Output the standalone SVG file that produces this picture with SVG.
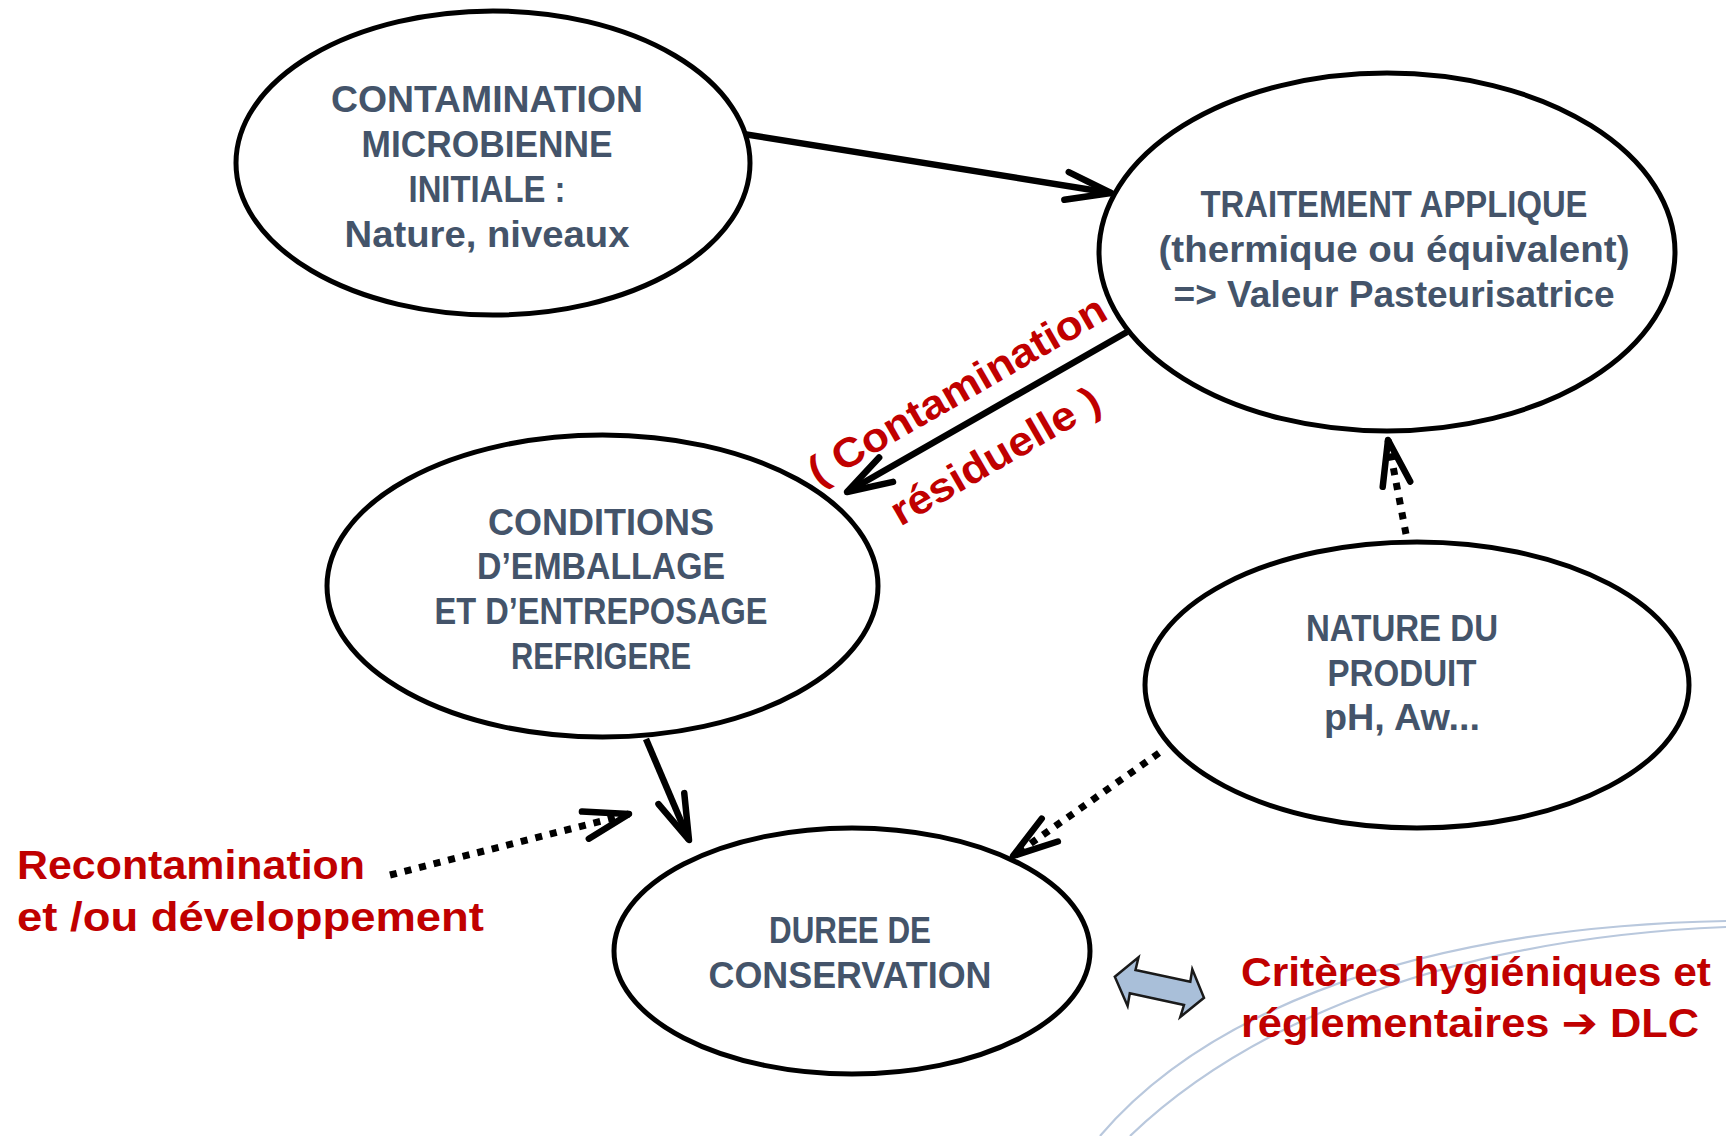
<svg xmlns="http://www.w3.org/2000/svg" width="1726" height="1136" viewBox="0 0 1726 1136">
<style>
.node{fill:#ffffff;stroke:#000000;stroke-width:5}
.nt{font-family:"Liberation Sans","DejaVu Sans",sans-serif;font-weight:bold;font-size:37px;fill:#44546A;text-anchor:middle}
.rt{font-family:"Liberation Sans","DejaVu Sans",sans-serif;font-weight:bold;font-size:41px;fill:#C00000}
.solid{fill:none;stroke:#000000;stroke-width:6.5}
.dot{fill:none;stroke:#000000;stroke-width:7;stroke-dasharray:7 8}
.deco{fill:none;stroke:#B9C8DD;stroke-width:2.2}
</style>
<defs>
<marker id="head" markerUnits="userSpaceOnUse" viewBox="-52 -22 60 44" refX="0" refY="0" markerWidth="60" markerHeight="44" orient="auto" overflow="visible">
<path d="M -45 -14 L 0 0 L -45 14" fill="none" stroke="#000000" stroke-width="6.5" stroke-linecap="round" stroke-linejoin="round"/>
</marker>
</defs>
<rect width="1726" height="1136" fill="#ffffff"/>
<g id="decoration">
<path class="deco" d="M 1100 1136 C 1190 1030, 1380 928, 1726 921"/>
<path class="deco" d="M 1130 1136 C 1225 1045, 1410 940, 1726 927"/>
</g>
<g id="connectors">
<line class="solid" x1="737" y1="133" x2="1111" y2="193" marker-end="url(#head)"/>
<line class="solid" x1="1127" y1="332" x2="847" y2="492" marker-end="url(#head)"/>
<line class="dot" x1="1406" y1="534" x2="1388" y2="440" marker-end="url(#head)"/>
<line class="dot" x1="390" y1="875" x2="629" y2="814" marker-end="url(#head)"/>
<line class="solid" x1="646" y1="739" x2="689" y2="840" marker-end="url(#head)"/>
<line class="dot" x1="1159" y1="753" x2="1013" y2="856" marker-end="url(#head)"/>
<polygon id="double-arrow" points="1114.8,976.7 1138.5,957.3 1135.5,970 1190.3,981.7 1192.3,969.3 1204,997.8 1180.3,1017 1184,1005 1129.8,993.3 1127.6,1006" fill="#A9BFD9" stroke="#1a1a1a" stroke-width="2.5" stroke-linejoin="miter"/>
</g>
<g id="node-contamination">
<ellipse class="node" cx="493" cy="163" rx="257" ry="152"/>
<text class="nt" x="487" y="112" textLength="312" lengthAdjust="spacingAndGlyphs">CONTAMINATION</text>
<text class="nt" x="487" y="157" textLength="251" lengthAdjust="spacingAndGlyphs">MICROBIENNE</text>
<text class="nt" x="487" y="202" textLength="157" lengthAdjust="spacingAndGlyphs">INITIALE :</text>
<text class="nt" x="487" y="247" textLength="285" lengthAdjust="spacingAndGlyphs">Nature, niveaux</text>
</g>
<g id="node-traitement">
<ellipse class="node" cx="1387" cy="252" rx="288" ry="179"/>
<text class="nt" x="1394" y="217" textLength="387" lengthAdjust="spacingAndGlyphs">TRAITEMENT APPLIQUE</text>
<text class="nt" x="1394" y="262" textLength="471" lengthAdjust="spacingAndGlyphs">(thermique ou équivalent)</text>
<text class="nt" x="1394" y="307" textLength="441" lengthAdjust="spacingAndGlyphs">=&gt; Valeur Pasteurisatrice</text>
</g>
<g id="node-conditions">
<ellipse class="node" cx="602.5" cy="586" rx="275.5" ry="151"/>
<text class="nt" x="601" y="535" textLength="226" lengthAdjust="spacingAndGlyphs">CONDITIONS</text>
<text class="nt" x="601" y="579" textLength="248" lengthAdjust="spacingAndGlyphs">D’EMBALLAGE</text>
<text class="nt" x="601" y="624" textLength="333" lengthAdjust="spacingAndGlyphs">ET D’ENTREPOSAGE</text>
<text class="nt" x="601" y="669" textLength="180" lengthAdjust="spacingAndGlyphs">REFRIGERE</text>
</g>
<g id="node-nature">
<ellipse class="node" cx="1417" cy="685" rx="272" ry="143"/>
<text class="nt" x="1402" y="641" textLength="192" lengthAdjust="spacingAndGlyphs">NATURE DU</text>
<text class="nt" x="1402" y="686" textLength="149" lengthAdjust="spacingAndGlyphs">PRODUIT</text>
<text class="nt" x="1402" y="730" textLength="156" lengthAdjust="spacingAndGlyphs">pH, Aw...</text>
</g>
<g id="node-duree">
<ellipse class="node" cx="852" cy="951" rx="238" ry="123"/>
<text class="nt" x="850" y="943" textLength="162" lengthAdjust="spacingAndGlyphs">DUREE DE</text>
<text class="nt" x="850" y="988" textLength="283" lengthAdjust="spacingAndGlyphs">CONSERVATION</text>
</g>
<g id="label-residuelle" transform="translate(957,390) rotate(-30)">
<text class="rt" x="0" y="14" text-anchor="middle" font-size="42" textLength="337" lengthAdjust="spacingAndGlyphs">( Contamination</text>
<text class="rt" x="0" y="90" text-anchor="middle" font-size="42" textLength="235" lengthAdjust="spacingAndGlyphs">résiduelle )</text>
</g>
<g id="label-recontamination">
<text class="rt" x="17" y="879" textLength="348" lengthAdjust="spacingAndGlyphs">Recontamination</text>
<text class="rt" x="17" y="931" textLength="467" lengthAdjust="spacingAndGlyphs">et /ou développement</text>
</g>
<g id="label-criteres">
<text class="rt" x="1241" y="986" textLength="470" lengthAdjust="spacingAndGlyphs">Critères hygiéniques et</text>
<text class="rt" x="1241" y="1037" textLength="458" lengthAdjust="spacingAndGlyphs">réglementaires &#x2794; DLC</text>
</g>
</svg>
